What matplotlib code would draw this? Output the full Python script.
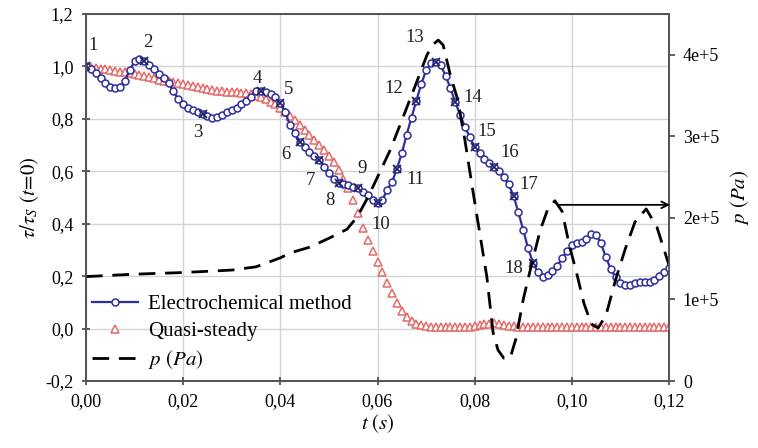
import matplotlib
matplotlib.use("Agg")
import matplotlib.pyplot as plt
import numpy as np
from matplotlib.ticker import FuncFormatter

# time grid of the measured / quasi-steady series (s)
t = np.linspace(0.0, 0.12, 121)

# electrochemical method, tau / tau_s(t=0)
electro = [
    1.000, 0.990, 0.975, 0.955, 0.935, 0.922, 0.917, 0.920, 0.945, 0.985,
    1.020, 1.030, 1.020, 1.005, 0.990, 0.972, 0.955, 0.935, 0.905, 0.875,
    0.855, 0.842, 0.832, 0.825, 0.820, 0.812, 0.805, 0.808, 0.815, 0.825,
    0.832, 0.842, 0.855, 0.868, 0.885, 0.905, 0.908, 0.902, 0.893, 0.882,
    0.862, 0.825, 0.775, 0.745, 0.712, 0.692, 0.675, 0.660, 0.642, 0.618,
    0.592, 0.572, 0.557, 0.552, 0.548, 0.541, 0.535, 0.522, 0.508, 0.492,
    0.478, 0.490, 0.530, 0.560, 0.610, 0.668, 0.740, 0.805, 0.870, 0.932,
    0.985, 1.012, 1.017, 1.005, 0.965, 0.918, 0.864, 0.815, 0.770, 0.730,
    0.693, 0.668, 0.648, 0.632, 0.618, 0.600, 0.578, 0.550, 0.505, 0.444,
    0.375, 0.306, 0.252, 0.214, 0.195, 0.203, 0.220, 0.240, 0.268, 0.295,
    0.318, 0.325, 0.332, 0.342, 0.360, 0.358, 0.325, 0.272, 0.228, 0.195,
    0.172, 0.165, 0.168, 0.174, 0.176, 0.176, 0.178, 0.186, 0.200, 0.215,
    0.232,
]

# quasi-steady model
quasi = [
    1.000, 0.998, 0.995, 0.992, 0.989, 0.986, 0.983, 0.980, 0.977, 0.974,
    0.970, 0.966, 0.962, 0.958, 0.954, 0.950, 0.946, 0.943, 0.940, 0.937,
    0.934, 0.930, 0.926, 0.922, 0.918, 0.914, 0.910, 0.907, 0.905, 0.904,
    0.903, 0.902, 0.900, 0.897, 0.893, 0.888, 0.882, 0.875, 0.866, 0.855,
    0.842, 0.828, 0.812, 0.795, 0.776, 0.756, 0.737, 0.718, 0.700, 0.680,
    0.658, 0.634, 0.606, 0.572, 0.535, 0.492, 0.440, 0.385, 0.338, 0.295,
    0.255, 0.215, 0.175, 0.135, 0.098, 0.068, 0.045, 0.028, 0.018, 0.012,
    0.008, 0.006, 0.006, 0.006, 0.006, 0.006, 0.006, 0.006, 0.006, 0.006,
    0.008, 0.012, 0.016, 0.019, 0.020, 0.018, 0.014, 0.010, 0.008, 0.006,
    0.006, 0.006, 0.006, 0.006, 0.006, 0.006, 0.006, 0.006, 0.006, 0.006,
    0.006, 0.006, 0.006, 0.006, 0.006, 0.006, 0.006, 0.006, 0.006, 0.006,
    0.006, 0.006, 0.006, 0.006, 0.006, 0.006, 0.006, 0.006, 0.006, 0.006,
    0.006,
]

# pressure p (Pa), in units of 1e5
t_p = [0.000, 0.010, 0.020, 0.030, 0.035, 0.040, 0.042, 0.046, 0.050, 0.0537,
       0.0558, 0.058, 0.060, 0.0626, 0.0653, 0.0677, 0.0702, 0.0715, 0.0725, 0.0735,
       0.075, 0.0765, 0.078, 0.0795, 0.081, 0.0825, 0.0838, 0.0848, 0.086, 0.0873,
       0.0885, 0.090, 0.0918, 0.0935, 0.095, 0.0965, 0.098, 0.0995, 0.101, 0.1025,
       0.104, 0.1054, 0.107, 0.109, 0.111, 0.113, 0.1153, 0.1175, 0.120]
p = [1.28, 1.31, 1.33, 1.36, 1.40, 1.51, 1.57, 1.64, 1.75, 1.86,
     2.01, 2.25, 2.50, 2.83, 3.24, 3.61, 4.00, 4.13, 4.18, 4.12,
     3.75, 3.45, 2.95, 2.38, 1.83, 1.28, 0.59, 0.38, 0.28, 0.28,
     0.52, 1.00, 1.45, 1.85, 2.10, 2.21, 2.08, 1.66, 1.32, 0.95,
     0.70, 0.65, 0.80, 1.24, 1.62, 1.95, 2.11, 1.89, 1.42]

# numbered points (ms) on the electrochemical curve
point_ms = [0, 12, 24, 36, 40, 44, 48, 52, 56, 60, 64, 68, 72, 76, 80, 84, 88, 92]
point_labels = [str(i) for i in range(1, 19)]
# label offsets in pixels
label_off = [(7, 21), (4, 19), (-5, -19), (-4, 12), (8, 13), (-14, -13), (-9, -20),
             (-9, -18), (4, 20), (3, -21), (18, -11), (-23, 12), (-21, 24), (18, 5),
             (12, 15), (16, 14), (15, 12), (-19, -6)]

plt.rcParams["font.family"] = "Liberation Serif"
plt.rcParams["mathtext.fontset"] = "stix"
plt.rcParams["font.size"] = 12

fig = plt.figure(figsize=(7.58, 4.48), dpi=100)
ax = fig.add_axes([86 / 758, 1 - 381 / 448, 583 / 758, 367 / 448])
ax2 = ax.twinx()

blue = "#2e2e9e"
red = "#e46a68"

ax.plot(t, electro, "-", color=blue, lw=1.6, marker="o", ms=5, mfc="white",
        mec=blue, mew=1.1, label="Electrochemical method", zorder=4)
ax.plot(t, quasi, linestyle="none", marker="^", ms=5.5, mfc="white", mec=red,
        mew=1.1, label="Quasi-steady", zorder=3)

idx = [m for m in point_ms]
ax.plot(t[idx], np.array(electro)[idx], "x", color="#222266", ms=6, mew=1.3, zorder=5)
for i, lab, off in zip(idx, point_labels, label_off):
    ax.annotate(lab, (t[i], electro[i]), xytext=off, textcoords="offset pixels",
                ha="center", va="center", fontsize=13.5, color="#222222")

pline, = ax2.plot(t_p, np.array(p) * 1e5, color="black", lw=2.0,
                  dashes=(6, 3.5), label="$p$ $(Pa)$")
ax2.annotate("", xy=(0.1202, 2.16e5), xytext=(0.0975, 2.16e5),
             annotation_clip=False,
             arrowprops=dict(arrowstyle="->", color="black", lw=1.3,
                             shrinkA=0, shrinkB=0))

ax.set_xlim(0, 0.12)
ax.set_ylim(-0.2, 1.2)
ax2.set_ylim(0, 4.5e5)
ax.set_xticks(np.arange(0, 0.121, 0.02))
ax.set_yticks(np.arange(-0.2, 1.21, 0.2))
ax2.set_yticks([0, 1e5, 2e5, 3e5, 4e5])
ax.xaxis.set_major_formatter(FuncFormatter(lambda v, _: f"{v:.2f}".replace(".", ",")))
ax.yaxis.set_major_formatter(FuncFormatter(lambda v, _: f"{v:.1f}".replace(".", ",").replace("-0,0", "0,0")))
ax2.yaxis.set_major_formatter(FuncFormatter(lambda v, _: "0" if v == 0 else f"{int(round(v / 1e5))}e+5"))

ax.grid(True, color="#d4d4d4", lw=1.0)
ax.set_axisbelow(True)
for a in (ax, ax2):
    for s in a.spines.values():
        s.set_color("#555555")
        s.set_linewidth(1.3)
ax.tick_params(axis="both", direction="inout", length=6, width=1.2, color="#444444",
               labelsize=13, pad=6)
ax2.tick_params(axis="y", direction="out", length=4, width=1.2, color="#444444",
                labelsize=13, pad=6)

ax.set_xlabel(r"$t\ (s)$", fontsize=15, labelpad=1)
ax.set_ylabel(r"$\tau/\tau_S\ (t\!=\!0)$", fontsize=15, labelpad=3)
ax2.set_ylabel(r"$p\ (Pa)$", fontsize=15, labelpad=6)

h1, l1 = ax.get_legend_handles_labels()
leg = ax.legend(h1 + [pline], l1 + ["$p$ $(Pa)$"], loc="lower left",
                bbox_to_anchor=(-0.022, -0.025), frameon=False, fontsize=15,
                handlelength=2.2, labelspacing=0.35, handletextpad=0.5)

fig.savefig("out.png", dpi=100)
